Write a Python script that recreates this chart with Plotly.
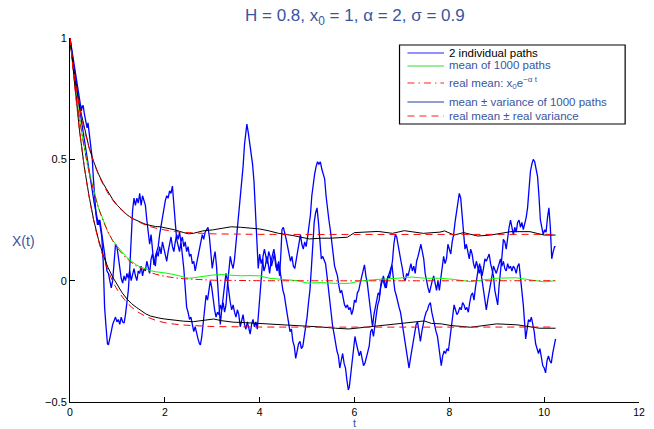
import plotly.graph_objects as go

# ---- two simulated paths (t, X(t)) ----
t_path1 = [0.00,0.03,0.06,0.09,0.12,0.15,0.18,0.21,0.24,0.27,0.30,0.33,0.36,0.39,0.42,0.45,0.48,0.51,0.54,0.57,
           0.60,0.63,0.66,0.69,0.72,0.75,0.78,0.81,0.84,0.87,0.90,0.93,0.96,0.99,1.02,1.05,1.08,1.11,1.14,1.17,
           1.20,1.23,1.26,1.29,1.32,1.35,1.38,1.41,1.44,1.47,1.50,1.53,1.56,1.59,1.62,1.65,1.68,1.71,1.74,1.77,
           1.80,1.83,1.86,1.89,1.92,1.95,1.98,2.01,2.04,2.07,2.10,2.13,2.16,2.19,2.22,2.25,2.28,2.31,2.34,2.37,
           2.40,2.43,2.46,2.49,2.52,2.55,2.58,2.61,2.64,2.67,2.70,2.73,2.76,2.79,2.82,2.85,2.88,2.91,2.94,2.97,
           3.00,3.03,3.06,3.09,3.12,3.15,3.17,3.20,3.23,3.26,3.29,3.32,3.35,3.38,3.41,3.44,3.47,3.50,3.53,3.56,
           3.59,3.62,3.65,3.68,3.71,3.73,3.76,3.79,3.82,3.85,3.88,3.91,3.94,3.97,4.00,4.03,4.06,4.09,4.12,4.15,
           4.18,4.21,4.24,4.27,4.30,4.33,4.36,4.39,4.42,4.45,4.47,4.50,4.53,4.56,4.59,4.62,4.65,4.68,4.71,4.74,
           4.77,4.80,4.83,4.86,4.89,4.92,4.95,4.98,5.01,5.04,5.07,5.10,5.13,5.16,5.19,5.22,5.25,5.28,5.31,5.34,
           5.37,5.40,5.43,5.46,5.49,5.52,5.55,5.58,5.61,5.64,5.67,5.70,5.73,5.76,5.79,5.82,5.85,5.88,5.91,5.94,
           5.97,6.00,6.03,6.06,6.09,6.12,6.15,6.18,6.21,6.24,6.27,6.30,6.33,6.36,6.38,6.41,6.44,6.47,6.50,6.53,
           6.56,6.59,6.62,6.65,6.68,6.71,6.74,6.77,6.80,6.83,6.86,6.89,6.92,6.95,6.98,7.01,7.04,7.07,7.10,7.13,
           7.16,7.19,7.22,7.25,7.28,7.31,7.34,7.37,7.40,7.43,7.46,7.49,7.52,7.55,7.58,7.61,7.64,7.67,7.70,7.73,
           7.76,7.79,7.82,7.85,7.88,7.91,7.94,7.97,8.00,8.03,8.06,8.09,8.12,8.15,8.18,8.21,8.24,8.27,8.30,8.33,
           8.36,8.39,8.42,8.45,8.48,8.51,8.54,8.57,8.60,8.63,8.66,8.69,8.72,8.75,8.78,8.81,8.84,8.87,8.90,8.93,
           8.96,8.99,9.02,9.05,9.08,9.11,9.14,9.17,9.20,9.23,9.26,9.29,9.32,9.35,9.38,9.41,9.44,9.47,9.50,9.53,
           9.56,9.59,9.62,9.65,9.68,9.71,9.74,9.77,9.80,9.83,9.86,9.89,9.92,9.95,9.98,10.01,10.04,10.07,10.10,10.13,
           10.16,10.19,10.22,10.24]
x_path1 = [1.00,0.95,0.91,0.86,0.83,0.78,0.74,0.70,0.66,0.62,0.58,0.55,0.51,0.48,0.44,0.40,0.36,0.32,0.29,0.26,
           0.23,0.25,0.21,0.16,0.11,0.07,0.04,0.03,-0.01,-0.03,0.00,0.07,0.15,0.14,0.09,0.04,0.01,-0.01,0.02,0.00,
           0.03,0.01,0.04,0.00,0.02,0.05,0.02,0.00,0.04,0.03,0.06,0.02,0.05,0.04,0.08,0.06,0.03,0.09,0.11,0.08,
           0.06,0.12,0.10,0.14,0.11,0.16,0.13,0.10,0.08,0.12,0.15,0.18,0.14,0.12,0.16,0.19,0.17,0.20,0.16,0.18,
           0.14,0.16,0.12,0.14,0.10,0.11,0.07,0.08,0.04,0.07,0.10,0.14,0.16,0.19,0.17,0.20,0.21,0.22,0.18,0.11,
           0.05,0.09,0.12,0.06,-0.04,-0.15,-0.18,-0.12,-0.09,-0.13,-0.10,-0.02,0.06,0.10,0.07,0.05,0.09,0.15,0.21,0.26,
           0.32,0.40,0.47,0.56,0.63,0.645,0.61,0.57,0.52,0.48,0.41,0.30,0.17,0.05,0.11,0.07,0.09,0.04,0.06,0.10,
           0.07,0.03,0.08,0.10,0.13,0.09,0.05,0.07,0.02,0.12,0.21,0.22,0.20,0.17,0.14,0.11,0.08,0.10,0.06,0.05,
           0.09,0.12,0.17,0.19,0.15,0.13,0.16,0.14,0.18,0.23,0.27,0.35,0.41,0.44,0.47,0.49,0.48,0.49,0.46,0.44,
           0.42,0.35,0.29,0.25,0.21,0.15,0.10,0.06,0.04,0.02,-0.02,-0.05,-0.04,-0.07,-0.10,-0.11,-0.10,-0.12,-0.11,-0.14,
           -0.12,-0.08,-0.09,-0.05,-0.04,-0.01,0.02,0.04,0.065,0.02,-0.01,-0.06,-0.12,-0.18,-0.19,-0.14,-0.10,-0.08,-0.05,-0.06,
           -0.01,0.01,-0.01,-0.03,0.00,0.02,0.01,0.05,0.08,0.15,0.19,0.18,0.14,0.12,0.08,0.05,0.01,0.00,0.03,0.02,
           0.05,0.07,0.04,0.06,0.03,0.08,0.10,0.13,0.15,0.12,0.09,0.03,-0.01,-0.03,-0.05,-0.02,0.00,0.02,-0.02,-0.04,
           0.00,-0.04,0.01,0.05,0.10,0.07,0.09,0.15,0.13,0.11,0.16,0.19,0.24,0.28,0.33,0.36,0.34,0.27,0.19,0.13,
           0.15,0.12,0.09,0.13,0.11,0.07,0.05,0.08,0.06,0.03,0.06,0.02,0.05,0.09,0.08,0.10,0.11,0.07,0.04,0.02,
           -0.04,-0.08,-0.10,-0.02,0.06,0.10,0.17,0.16,0.13,0.18,0.22,0.25,0.21,0.19,0.22,0.20,0.24,0.25,0.22,0.24,
           0.21,0.23,0.26,0.30,0.38,0.45,0.48,0.50,0.49,0.46,0.43,0.35,0.25,0.22,0.19,0.21,0.20,0.26,0.30,0.22,
           0.09,0.12,0.14,0.14]

t_path2 = [0.00,0.03,0.06,0.09,0.12,0.15,0.18,0.21,0.24,0.26,0.28,0.30,0.33,0.36,0.38,0.41,0.44,0.47,0.49,0.52,
           0.55,0.58,0.61,0.64,0.67,0.70,0.73,0.76,0.79,0.81,0.84,0.87,0.90,0.93,0.96,0.99,1.02,1.05,1.08,1.11,
           1.14,1.17,1.20,1.23,1.26,1.29,1.32,1.35,1.38,1.41,1.44,1.47,1.50,1.53,1.56,1.59,1.62,1.65,1.68,1.71,
           1.74,1.77,1.80,1.83,1.86,1.89,1.92,1.95,1.98,2.01,2.04,2.07,2.10,2.13,2.16,2.19,2.22,2.25,2.28,2.31,
           2.34,2.37,2.40,2.43,2.46,2.49,2.52,2.55,2.58,2.61,2.64,2.67,2.70,2.73,2.75,2.78,2.81,2.84,2.87,2.90,
           2.93,2.96,2.99,3.02,3.05,3.08,3.11,3.14,3.17,3.20,3.23,3.26,3.29,3.32,3.35,3.38,3.41,3.44,3.47,3.50,
           3.53,3.56,3.59,3.62,3.65,3.68,3.71,3.74,3.77,3.80,3.83,3.86,3.89,3.92,3.95,3.98,4.01,4.04,4.07,4.10,
           4.13,4.16,4.19,4.22,4.25,4.28,4.31,4.34,4.37,4.40,4.43,4.46,4.49,4.52,4.55,4.58,4.61,4.64,4.67,4.70,
           4.73,4.76,4.79,4.82,4.85,4.88,4.91,4.94,4.97,5.00,5.03,5.06,5.09,5.12,5.15,5.18,5.21,5.24,5.27,5.30,
           5.33,5.36,5.39,5.42,5.45,5.48,5.51,5.54,5.57,5.60,5.63,5.66,5.69,5.72,5.75,5.78,5.81,5.84,5.87,5.89,
           5.92,5.95,5.98,6.01,6.04,6.07,6.10,6.13,6.16,6.19,6.22,6.25,6.28,6.31,6.34,6.37,6.40,6.43,6.46,6.49,
           6.52,6.55,6.58,6.61,6.64,6.67,6.70,6.73,6.76,6.79,6.82,6.85,6.88,6.91,6.94,6.97,7.00,7.03,7.06,7.09,
           7.12,7.15,7.18,7.21,7.24,7.27,7.30,7.33,7.36,7.39,7.42,7.45,7.48,7.51,7.54,7.57,7.60,7.63,7.66,7.69,
           7.72,7.75,7.78,7.81,7.83,7.86,7.89,7.92,7.95,7.98,8.01,8.04,8.07,8.10,8.13,8.16,8.19,8.22,8.25,8.28,
           8.31,8.34,8.37,8.40,8.43,8.46,8.49,8.52,8.55,8.58,8.61,8.64,8.67,8.70,8.73,8.76,8.78,8.81,8.84,8.87,
           8.90,8.93,8.96,8.99,9.02,9.05,9.08,9.11,9.14,9.17,9.20,9.23,9.26,9.29,9.32,9.35,9.38,9.41,9.44,9.47,
           9.50,9.53,9.56,9.59,9.61,9.64,9.67,9.70,9.73,9.76,9.79,9.82,9.85,9.88,9.91,9.94,9.97,10.00,10.03,10.06,
           10.09,10.12,10.15,10.18,10.21,10.24]
x_path2 = [1.00,0.96,0.92,0.89,0.84,0.81,0.77,0.73,0.70,0.72,0.72,0.69,0.66,0.63,0.65,0.60,0.56,0.50,0.43,0.33,
           0.27,0.23,0.25,0.22,0.18,0.08,-0.11,-0.19,-0.26,-0.265,-0.23,-0.21,-0.18,-0.16,-0.15,-0.17,-0.16,-0.18,-0.15,-0.17,
           -0.175,-0.14,-0.10,-0.04,0.05,0.20,0.29,0.34,0.31,0.34,0.32,0.36,0.31,0.35,0.33,0.31,0.25,0.20,0.15,0.19,
           0.12,0.065,0.10,0.12,0.14,0.19,0.23,0.27,0.30,0.33,0.35,0.34,0.37,0.36,0.39,0.33,0.24,0.17,0.15,0.12,
           0.16,0.11,0.05,-0.03,-0.11,-0.13,-0.16,-0.15,-0.19,-0.21,-0.19,-0.22,-0.24,-0.26,-0.265,-0.23,-0.17,-0.11,-0.06,-0.08,
           -0.04,0.00,-0.03,-0.08,-0.12,-0.15,-0.13,-0.14,-0.10,-0.12,-0.06,-0.02,0.03,0.00,-0.05,-0.09,-0.12,-0.10,-0.13,-0.15,
           -0.12,-0.14,-0.19,-0.16,-0.14,-0.18,-0.20,-0.17,-0.19,-0.22,-0.18,-0.16,-0.19,-0.17,-0.20,-0.12,-0.02,0.06,0.10,0.13,
           0.09,0.07,0.12,0.10,0.06,0.09,0.11,0.06,0.04,0.08,0.03,0.00,-0.04,-0.06,-0.10,-0.14,-0.18,-0.21,-0.20,-0.25,
           -0.27,-0.32,-0.29,-0.26,-0.25,-0.28,-0.27,-0.23,-0.195,-0.15,-0.09,-0.04,0.05,0.16,0.24,0.28,0.30,0.24,0.15,0.09,
           0.10,0.08,0.07,0.02,-0.04,-0.10,-0.13,-0.19,-0.22,-0.26,-0.29,-0.31,-0.36,-0.33,-0.30,-0.34,-0.36,-0.41,-0.45,-0.44,
           -0.39,-0.33,-0.28,-0.23,-0.26,-0.28,-0.31,-0.29,-0.33,-0.35,-0.34,-0.32,-0.29,-0.27,-0.21,-0.20,-0.23,-0.17,-0.14,-0.10,
           -0.08,-0.03,0.00,0.02,-0.01,-0.03,0.01,0.03,0.05,0.065,0.01,-0.04,-0.06,-0.09,-0.11,-0.13,-0.17,-0.20,-0.25,-0.29,
           -0.33,-0.36,-0.32,-0.28,-0.24,-0.20,-0.18,-0.17,-0.21,-0.25,-0.21,-0.17,-0.15,-0.13,-0.12,-0.10,-0.09,-0.13,-0.16,-0.18,
           -0.21,-0.23,-0.27,-0.33,-0.35,-0.31,-0.29,-0.30,-0.28,-0.29,-0.24,-0.18,-0.13,-0.10,-0.12,-0.14,-0.13,-0.11,-0.12,-0.09,
           -0.10,-0.12,-0.11,-0.13,-0.09,-0.06,-0.05,-0.08,-0.03,0.02,0.05,0.07,0.03,0.00,-0.06,-0.10,-0.12,-0.08,-0.05,-0.01,
           0.02,0.06,0.04,0.03,0.05,0.07,0.09,0.06,0.08,0.05,0.04,0.07,0.05,0.06,0.04,0.06,0.05,0.03,0.06,0.07,
           0.02,-0.04,-0.10,-0.18,-0.24,-0.20,-0.16,-0.17,-0.15,-0.18,-0.21,-0.26,-0.28,-0.30,-0.28,-0.31,-0.35,-0.36,-0.38,-0.33,
           -0.31,-0.33,-0.34,-0.30,-0.26,-0.24]

# ---- statistics over 1000 paths ----
t_mean = [0.0,0.1,0.2,0.3,0.4,0.5,0.6,0.7,0.8,0.9,1.0,1.1,1.2,1.3,1.4,1.5,1.6,1.7,1.8,1.9,2.0,2.2,2.4,2.5,2.6,
          2.8,3.0,3.2,3.4,3.6,3.8,4.0,4.2,4.5,4.8,5.0,5.3,5.6,5.9,6.1,6.4,6.9,7.2,7.5,7.8,8.1,8.45,8.7,9.0,9.4,
          9.7,10.0,10.24]
sample_mean = [1.0,0.82,0.67,0.55,0.45,0.37,0.30,0.25,0.20,0.165,0.14,0.115,0.095,0.08,0.065,0.055,0.047,0.041,0.037,0.035,
               0.032,0.025,0.015,0.010,0.012,0.018,0.023,0.025,0.022,0.020,0.021,0.020,0.010,0.005,0.000,-0.010,-0.008,-0.011,-0.011,-0.002,
               0.004,0.010,0.015,0.010,0.010,0.005,-0.004,0.003,0.010,0.012,0.005,-0.005,0.000]

t_upper = [0.0,0.1,0.2,0.3,0.4,0.5,0.6,0.7,0.8,0.9,1.0,1.1,1.2,1.3,1.4,1.5,1.6,1.7,1.8,1.9,2.0,2.2,2.4,2.5,2.6,
           2.8,3.0,3.2,3.4,3.6,3.8,4.0,4.2,4.4,4.7,5.05,5.3,5.5,5.85,6.0,6.5,6.8,7.05,7.45,7.8,7.9,8.1,8.3,8.6,8.87,
           9.3,9.7,10.0,10.24]
sample_upper = [1.0,0.84,0.72,0.63,0.55,0.49,0.44,0.40,0.365,0.335,0.31,0.29,0.272,0.258,0.248,0.240,0.232,0.226,0.223,0.222,
                0.218,0.210,0.198,0.193,0.195,0.205,0.209,0.215,0.222,0.220,0.216,0.213,0.205,0.195,0.186,0.172,0.175,0.175,0.179,0.198,
                0.203,0.195,0.206,0.195,0.200,0.205,0.188,0.198,0.184,0.188,0.202,0.202,0.188,0.188]

t_lower = [0.0,0.1,0.2,0.3,0.4,0.5,0.6,0.7,0.8,0.9,1.0,1.1,1.2,1.3,1.4,1.5,1.6,1.7,1.8,1.9,2.0,2.2,2.4,2.6,2.8,
           3.03,3.2,3.44,3.7,4.0,4.5,4.9,5.3,5.6,5.88,6.37,6.92,7.47,7.62,7.83,8.04,8.45,9.0,9.43,9.9,10.24]
sample_lower = [1.0,0.80,0.62,0.47,0.35,0.25,0.17,0.105,0.055,0.015,-0.02,-0.05,-0.075,-0.095,-0.11,-0.125,-0.137,-0.146,-0.152,-0.155,
                -0.158,-0.163,-0.167,-0.169,-0.163,-0.158,-0.165,-0.171,-0.173,-0.176,-0.180,-0.185,-0.191,-0.196,-0.199,-0.189,-0.176,-0.166,-0.176,-0.178,
                -0.185,-0.192,-0.178,-0.182,-0.196,-0.196]

# ---- theoretical mean x0*exp(-alpha t) and variance ----
t_real = [0.0,0.1,0.2,0.3,0.4,0.5,0.6,0.7,0.8,0.9,1.0,1.2,1.4,1.6,1.8,2.0,2.2,2.4,2.6,2.8,3.0,3.5,4.0,10.24]
real_mean = [1.0,0.819,0.670,0.549,0.449,0.368,0.301,0.247,0.202,0.165,0.135,0.091,0.061,0.041,0.027,0.018,0.012,0.008,
             0.006,0.004,0.002,0.001,0.0,0.0]
real_var = [0.0,0.018,0.047,0.076,0.100,0.120,0.136,0.149,0.159,0.167,0.173,0.181,0.186,0.188,0.190,0.191,0.191,0.191,
            0.191,0.191,0.191,0.191,0.191,0.191]

real_upper = [m + v for m, v in zip(real_mean, real_var)]
real_lower = [m - v for m, v in zip(real_mean, real_var)]

BLUE = "#0000ff"
TXT = "#3a55a0"
FONT = "Liberation Sans, Arial, sans-serif"

fig = go.Figure()
fig.add_trace(go.Scatter(x=t_path1, y=x_path1, mode="lines", line=dict(color=BLUE, width=1.3)))
fig.add_trace(go.Scatter(x=t_path2, y=x_path2, mode="lines", line=dict(color=BLUE, width=1.3)))
fig.add_trace(go.Scatter(x=t_mean, y=sample_mean, mode="lines", line=dict(color="#00ff00", width=1)))
fig.add_trace(go.Scatter(x=t_real, y=real_mean, mode="lines", line_shape="spline",
                         line=dict(color="#ff0000", width=1, dash="7px,3px,1.5px,3px")))
fig.add_trace(go.Scatter(x=t_upper, y=sample_upper, mode="lines", line=dict(color="black", width=1)))
fig.add_trace(go.Scatter(x=t_lower, y=sample_lower, mode="lines", line=dict(color="black", width=1)))
fig.add_trace(go.Scatter(x=t_real, y=real_upper, mode="lines", line_shape="spline",
                         line=dict(color="#ff0000", width=1, dash="7px,5px")))
fig.add_trace(go.Scatter(x=t_real, y=real_lower, mode="lines", line_shape="spline",
                         line=dict(color="#ff0000", width=1, dash="7px,5px")))

# plot area spans pixels x 70..645, y 38..402
def px(xp):
    return (xp - 70) / 575.0

def py(yp):
    return (402 - yp) / 364.0

# legend box
fig.add_shape(type="rect", xref="paper", yref="paper", x0=px(403), x1=px(631), y0=py(124), y1=py(45),
              line=dict(color="black", width=1.2), fillcolor="white", layer="above")

legend_rows = [
    (53, 53, "2 individual paths", "black", dict(color="#6b6bff", width=1.5)),
    (66, 65.5, "mean of 1000 paths", TXT, dict(color="#33dd33", width=1.2)),
    (83, 83, "real mean: x<sub>0</sub>e<sup>\u2212\u03b1 t</sup>", TXT, dict(color="#ff2020", width=1.2, dash="7px,4px,1.5px,4px")),
    (102, 102, "mean \u00b1 variance of 1000 paths", TXT, dict(color="#6a7fc0", width=1.3)),
    (116, 115.5, "real mean \u00b1 real variance", TXT, dict(color="#ff2020", width=1.2, dash="7px,5px")),
]
for yrow, ytext, label, tcol, lstyle in legend_rows:
    fig.add_shape(type="line", xref="paper", yref="paper", x0=px(411), x1=px(448), y0=py(yrow), y1=py(yrow),
                  line=lstyle, layer="above")
    fig.add_annotation(xref="paper", yref="paper", x=px(451), y=py(ytext), text=label, showarrow=False,
                       xanchor="left", yanchor="middle", font=dict(family=FONT, size=11.5, color=tcol))

# title and axis labels
fig.add_annotation(xref="paper", yref="paper", x=0.5, y=py(17),
                   text="H = 0.8, x<sub>0</sub> = 1, \u03b1 = 2, \u03c3 = 0.9", showarrow=False,
                   xanchor="center", yanchor="middle", font=dict(family=FONT, size=17, color=TXT))
fig.add_annotation(xref="paper", yref="paper", x=px(23), y=py(241), text="X(t)", showarrow=False,
                   xanchor="center", yanchor="middle", font=dict(family=FONT, size=14, color=TXT))
fig.add_annotation(xref="paper", yref="paper", x=px(357), y=py(422.5), text="t", showarrow=False,
                   xanchor="center", yanchor="middle", font=dict(family=FONT, size=11, color=TXT))

x_ticks = [0, 2, 4, 6, 8, 10, 12]
y_ticks = [-0.5, 0, 0.5, 1]
y_ticklabels = ["\u22120.5", "0", "0.5", "1"]

fig.update_layout(
    width=654, height=429,
    margin=dict(l=70, r=9, t=38, b=27),
    paper_bgcolor="white", plot_bgcolor="white",
    showlegend=False,
    font=dict(family=FONT, size=11, color="black"),
    xaxis=dict(range=[0, 12], tickvals=x_ticks, ticks="inside", ticklen=5, tickcolor="black",
               showline=True, linecolor="black", linewidth=1, showgrid=False, zeroline=False,
               tickfont=dict(size=10.5, color="black")),
    yaxis=dict(range=[-0.5, 1], tickvals=y_ticks, ticktext=y_ticklabels, ticks="inside", ticklen=5,
               tickcolor="black", showline=True, linecolor="black", linewidth=1, showgrid=False,
               zeroline=False, tickfont=dict(size=11, color="black")),
)

fig.write_html("out.html")
